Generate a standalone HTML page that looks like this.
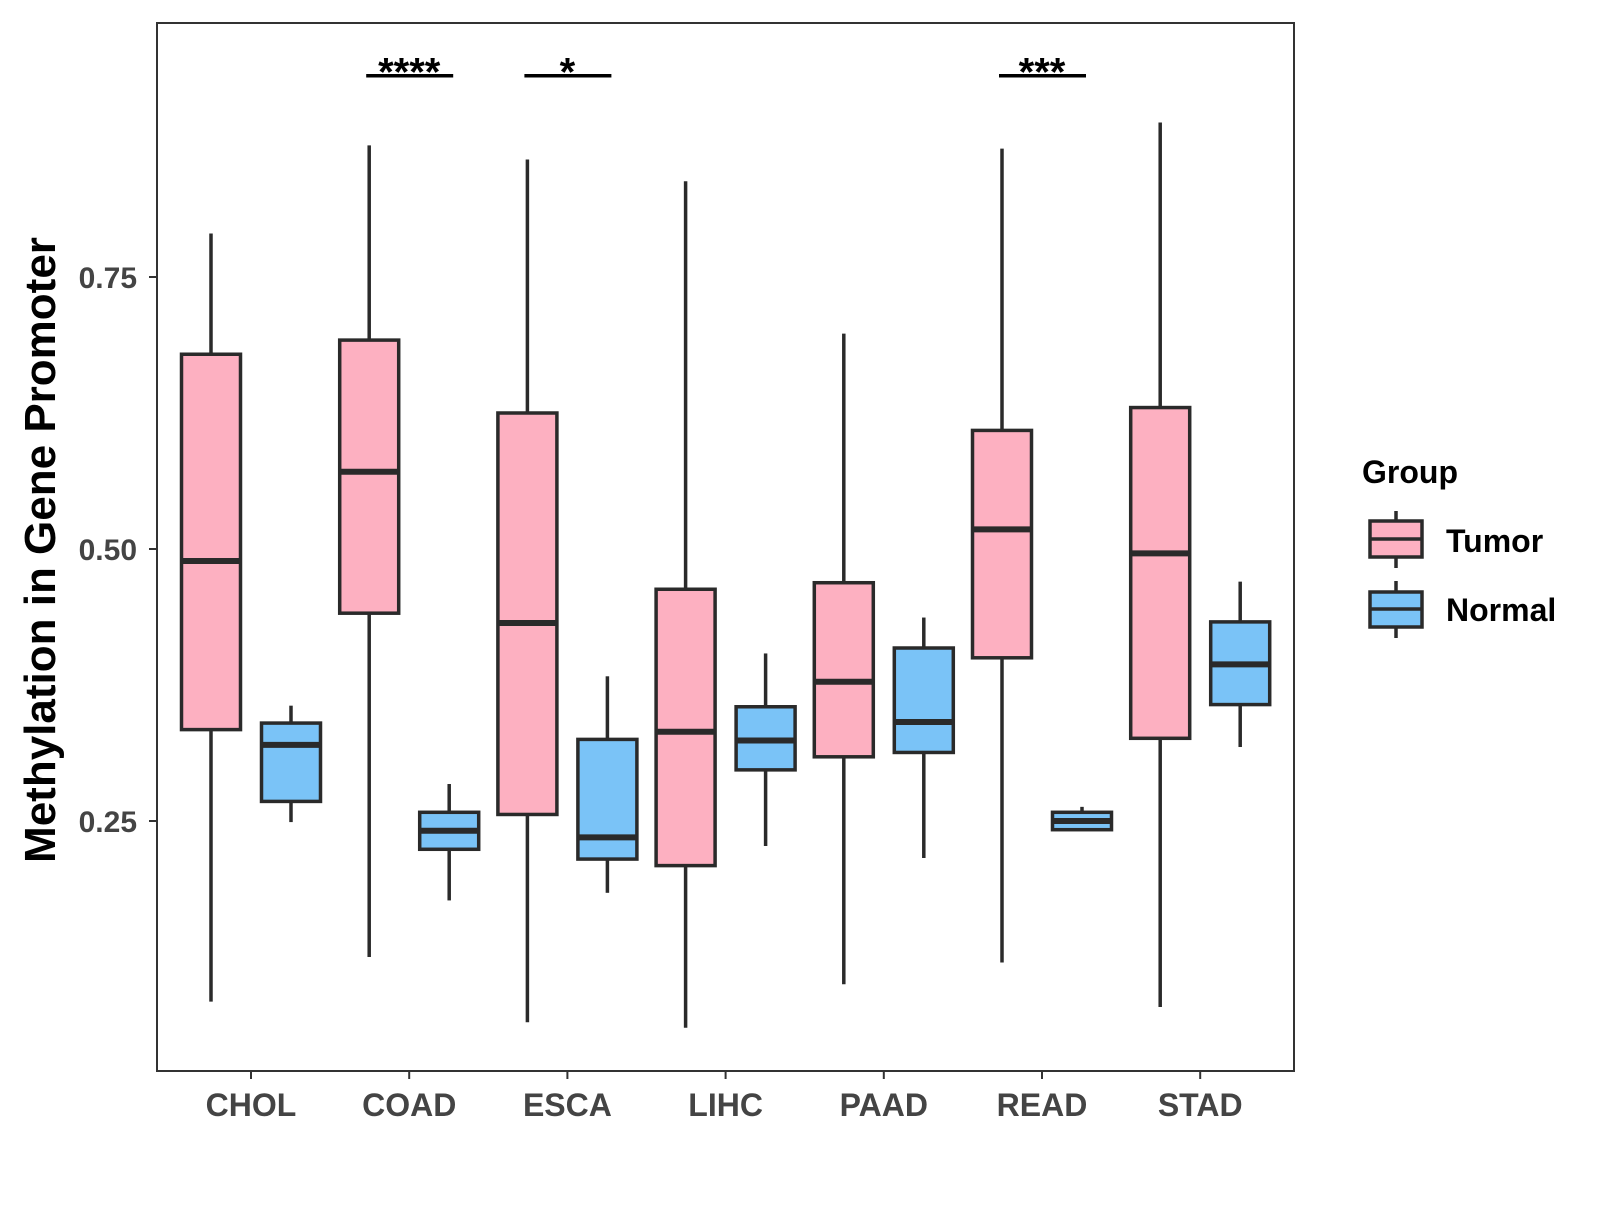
<!DOCTYPE html>
<html><head><meta charset="utf-8"><style>
body{margin:0;background:#fff}
svg text{font-family:"Liberation Sans",Arial,sans-serif;font-weight:bold}
</style></head><body>
<svg id="chart" width="1600" height="1200" viewBox="0 0 1600 1200" xmlns="http://www.w3.org/2000/svg">
<rect width="1600" height="1200" fill="#fff"/>
<g id="marks"></g>
<rect x="157" y="23" width="1137" height="1048" fill="none" stroke="#333" stroke-width="2"/>
<text transform="translate(55,550) rotate(-90)" text-anchor="middle" font-size="44" fill="#000">Methylation in Gene Promoter</text>
<g>
<text x="1362" y="483" font-size="32" fill="#000">Group</text>
<line x1="1396" y1="511" x2="1396" y2="568" stroke="#2a2a2a" stroke-width="3.5"/>
<rect x="1370" y="521" width="52" height="36" fill="#FDB0C1" stroke="#2a2a2a" stroke-width="3.5"/>
<line x1="1370" y1="539" x2="1422" y2="539" stroke="#2a2a2a" stroke-width="3.5"/>
<text x="1446" y="552" font-size="32" fill="#000">Tumor</text>
<line x1="1396" y1="581" x2="1396" y2="638" stroke="#2a2a2a" stroke-width="3.5"/>
<rect x="1370" y="592" width="52" height="35" fill="#7AC3F7" stroke="#2a2a2a" stroke-width="3.5"/>
<line x1="1370" y1="609" x2="1422" y2="609" stroke="#2a2a2a" stroke-width="3.5"/>
<text x="1446" y="621" font-size="32" fill="#000">Normal</text>
</g>
</svg>
<script>
const categories=["CHOL","COAD","ESCA","LIHC","PAAD","READ","STAD"];
// [min, q1, median, q3, max]
const tumorStats=[[0.084,0.334,0.489,0.679,0.79],[0.125,0.441,0.571,0.692,0.871],[0.065,0.256,0.432,0.625,0.858],[0.060,0.209,0.332,0.463,0.838],[0.100,0.309,0.378,0.469,0.698],[0.120,0.400,0.518,0.609,0.868],[0.079,0.326,0.496,0.630,0.892]];
const normalStats=[[0.249,0.268,0.320,0.340,0.356],[0.177,0.224,0.241,0.258,0.284],[0.184,0.215,0.235,0.325,0.383],[0.227,0.297,0.324,0.355,0.404],[0.216,0.313,0.341,0.409,0.437],[0.242,0.242,0.250,0.258,0.263],[0.318,0.357,0.394,0.433,0.470]];
const yTicks=[0.25,0.50,0.75];
const yTickLabels=["0.25","0.50","0.75"];
const sigCategories=["COAD","ESCA","READ"];
const sigLabels=["****","*","***"];
const sigLevel=0.935;

const NS="http://www.w3.org/2000/svg";
const g=document.getElementById('marks');
const y=v=>277+(0.75-v)*1088;
const x=i=>251+i*158.2;
function mk(t,a,parent){const e=document.createElementNS(NS,t);for(const k in a)e.setAttribute(k,a[k]);(parent||g).appendChild(e);return e;}
const S="#2a2a2a";
yTicks.forEach((v,i)=>{
  const t=mk('line',{x1:149,x2:157,y1:y(v),y2:y(v),stroke:'#333','stroke-width':2});
  
  
  const l=mk('text',{x:137,y:y(v)+11,'text-anchor':'end','font-size':30,fill:'#444'});
  l.textContent=yTickLabels[i];
  
  
});
categories.forEach((c,i)=>{
  const t=mk('line',{x1:x(i),x2:x(i),y1:1071,y2:1079,stroke:'#333','stroke-width':2});
  
  
  const l=mk('text',{x:x(i),y:1116,'text-anchor':'middle','font-size':32,fill:'#444'});
  l.textContent=c;
  
  
});
function box(cx,s,fill,name){
  const gg=mk('g',{});
  
  
  const w=59;
  mk('line',{x1:cx,x2:cx,y1:y(s[4]),y2:y(s[3]),stroke:S,'stroke-width':3.5},gg);
  mk('line',{x1:cx,x2:cx,y1:y(s[1]),y2:y(s[0]),stroke:S,'stroke-width':3.5},gg);
  mk('rect',{x:cx-w/2,y:y(s[3]),width:w,height:Math.max(0.5,y(s[1])-y(s[3])),fill:fill,stroke:S,'stroke-width':3.5},gg);
  mk('line',{x1:cx-w/2,x2:cx+w/2,y1:y(s[2]),y2:y(s[2]),stroke:S,'stroke-width':6},gg);
}
categories.forEach((c,i)=>{
  box(x(i)-40,tumorStats[i],'#FDB0C1','box-tumor-'+c.toLowerCase());
  box(x(i)+40,normalStats[i],'#7AC3F7','box-normal-'+c.toLowerCase());
});
sigCategories.forEach((c,j)=>{
  const i=categories.indexOf(c);
  const b=mk('line',{x1:x(i)-43,x2:x(i)+44,y1:y(sigLevel),y2:y(sigLevel),stroke:'#000','stroke-width':3.5});
  
  
  const t=mk('text',{x:x(i),y:y(sigLevel)+10,'text-anchor':'middle','font-size':40,fill:'#000'});
  t.textContent=sigLabels[j];
  
  
});
</script>
</body></html>
